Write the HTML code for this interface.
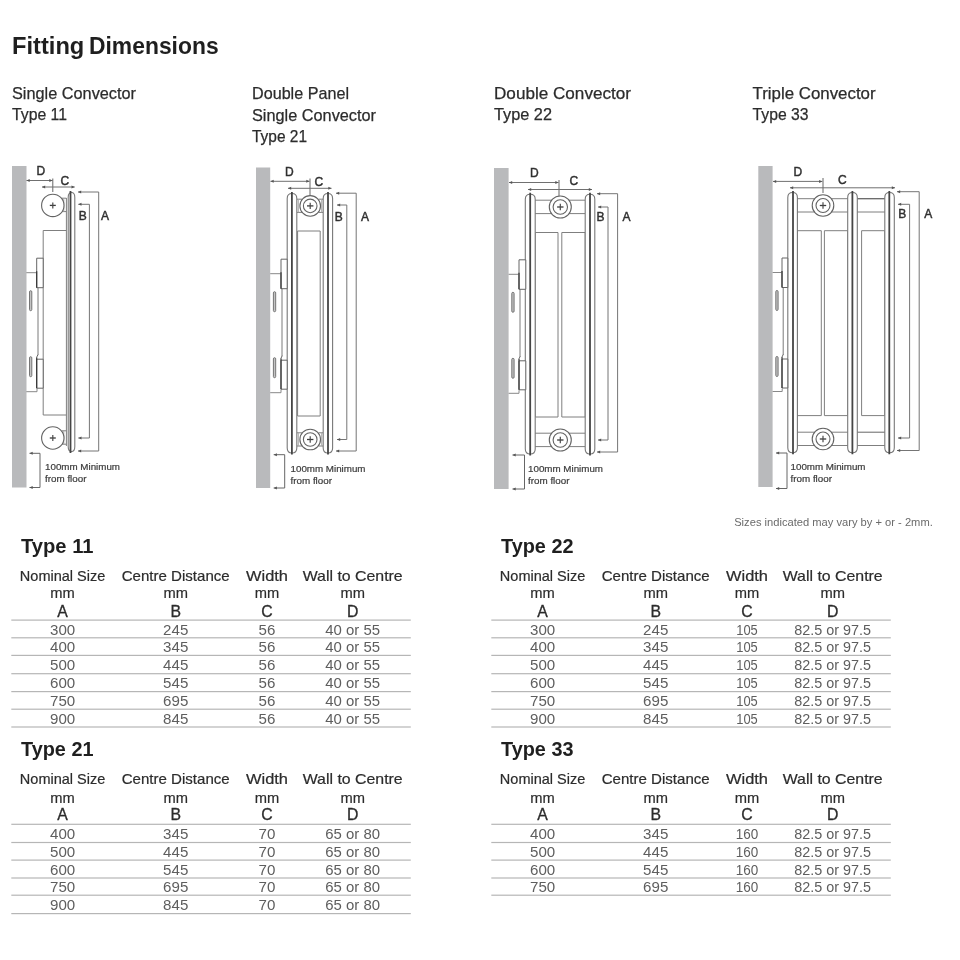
<!DOCTYPE html>
<html><head><meta charset="utf-8"><title>Fitting Dimensions</title>
<style>html,body{margin:0;padding:0;background:#fff;}body{width:960px;height:960px;overflow:hidden;font-family:"Liberation Sans",sans-serif;}svg{display:block;filter:blur(0.35px);}</style>
</head><body>
<svg width="960" height="960" viewBox="0 0 960 960" font-family="'Liberation Sans', sans-serif">
<rect width="960" height="960" fill="#fff"/>
<text x="12.0" y="53.9" font-size="23.6" text-anchor="start" fill="#1f1f1f" font-weight="bold" textLength="72.3" lengthAdjust="spacingAndGlyphs">Fitting</text>
<text x="89.0" y="53.9" font-size="23.6" text-anchor="start" fill="#1f1f1f" font-weight="bold" textLength="129.6" lengthAdjust="spacingAndGlyphs">Dimensions</text>
<text x="12" y="99" font-size="16.4" text-anchor="start" fill="#2c2c2c" font-weight="normal" textLength="124" lengthAdjust="spacingAndGlyphs" stroke="#2c2c2c" stroke-width="0.25">Single Convector</text>
<text x="12" y="120" font-size="16.4" text-anchor="start" fill="#2c2c2c" font-weight="normal" textLength="55" lengthAdjust="spacingAndGlyphs" stroke="#2c2c2c" stroke-width="0.25">Type 11</text>
<text x="252" y="99" font-size="16.4" text-anchor="start" fill="#2c2c2c" font-weight="normal" textLength="97" lengthAdjust="spacingAndGlyphs" stroke="#2c2c2c" stroke-width="0.25">Double Panel</text>
<text x="252" y="120.5" font-size="16.4" text-anchor="start" fill="#2c2c2c" font-weight="normal" textLength="124" lengthAdjust="spacingAndGlyphs" stroke="#2c2c2c" stroke-width="0.25">Single Convector</text>
<text x="252" y="142" font-size="16.4" text-anchor="start" fill="#2c2c2c" font-weight="normal" textLength="55" lengthAdjust="spacingAndGlyphs" stroke="#2c2c2c" stroke-width="0.25">Type 21</text>
<text x="494" y="99" font-size="16.4" text-anchor="start" fill="#2c2c2c" font-weight="normal" textLength="137" lengthAdjust="spacingAndGlyphs" stroke="#2c2c2c" stroke-width="0.25">Double Convector</text>
<text x="494" y="120" font-size="16.4" text-anchor="start" fill="#2c2c2c" font-weight="normal" textLength="58" lengthAdjust="spacingAndGlyphs" stroke="#2c2c2c" stroke-width="0.25">Type 22</text>
<text x="752.6" y="99" font-size="16.4" text-anchor="start" fill="#2c2c2c" font-weight="normal" textLength="123" lengthAdjust="spacingAndGlyphs" stroke="#2c2c2c" stroke-width="0.25">Triple Convector</text>
<text x="752.6" y="120" font-size="16.4" text-anchor="start" fill="#2c2c2c" font-weight="normal" textLength="56" lengthAdjust="spacingAndGlyphs" stroke="#2c2c2c" stroke-width="0.25">Type 33</text>
<rect x="12" y="166" width="14.5" height="321.5" fill="#b9babc"/>
<path d="M26.50 180.50L52.50 180.50" stroke="#707070" stroke-width="1" fill="none"/>
<path d="M26.50 180.50L29.70 179.00L29.70 182.00Z" fill="#555"/>
<path d="M52.50 180.50L49.30 179.00L49.30 182.00Z" fill="#555"/>
<path d="M52.80 178.50L52.80 192.00" stroke="#666" stroke-width="1" fill="none"/>
<path d="M42.00 187.00L74.70 187.00" stroke="#707070" stroke-width="1" fill="none"/>
<path d="M42.00 187.00L45.20 185.50L45.20 188.50Z" fill="#555"/>
<path d="M74.70 187.00L71.50 185.50L71.50 188.50Z" fill="#555"/>
<text x="36.5" y="175.3" font-size="12" text-anchor="start" fill="#303030" font-weight="normal" stroke="#303030" stroke-width="0.45">D</text>
<text x="60.5" y="184.8" font-size="12" text-anchor="start" fill="#303030" font-weight="normal" stroke="#303030" stroke-width="0.45">C</text>
<path d="M66.40 230.50L43.20 230.50L43.20 415.00L66.40 415.00" stroke="#7f7f7f" stroke-width="1" fill="none" stroke-linejoin="round"/>
<path d="M62.00 198.20L66.40 198.20" stroke="#7f7f7f" stroke-width="1" fill="none" stroke-linejoin="round"/>
<path d="M62.00 211.60L66.40 211.60" stroke="#7f7f7f" stroke-width="1" fill="none" stroke-linejoin="round"/>
<path d="M63.80 198.20L63.80 211.60" stroke="#aaa" stroke-width="1" fill="none"/>
<path d="M62.00 430.80L66.40 430.80" stroke="#7f7f7f" stroke-width="1" fill="none" stroke-linejoin="round"/>
<path d="M62.00 444.20L66.40 444.20" stroke="#7f7f7f" stroke-width="1" fill="none" stroke-linejoin="round"/>
<path d="M63.80 430.80L63.80 444.20" stroke="#aaa" stroke-width="1" fill="none"/>
<path d="M66.40 198.00L66.40 446.00" stroke="#7f7f7f" stroke-width="1" fill="none"/>
<path d="M68.20 197.50C68.20 194.50 69.52 192.50 71.50 192.50C73.48 192.50 74.80 194.50 74.80 197.50L74.80 446.50C74.80 449.50 73.48 451.50 71.50 451.50C69.52 451.50 68.20 449.50 68.20 446.50Z" stroke="#787878" stroke-width="1.1" fill="#fff"/>
<path d="M70.50 191.00L70.50 453.00" stroke="#454545" stroke-width="1.8" fill="none"/>
<circle cx="52.80" cy="205.40" r="11.20" stroke="#636363" stroke-width="1.1" fill="#fff"/>
<path d="M49.80 205.40L55.80 205.40" stroke="#3c3c3c" stroke-width="1.3" fill="none"/>
<path d="M52.80 202.40L52.80 208.40" stroke="#4a4a4a" stroke-width="1.2" fill="none"/>
<circle cx="52.80" cy="438.00" r="11.20" stroke="#636363" stroke-width="1.1" fill="#fff"/>
<path d="M49.80 438.00L55.80 438.00" stroke="#3c3c3c" stroke-width="1.3" fill="none"/>
<path d="M52.80 435.00L52.80 441.00" stroke="#4a4a4a" stroke-width="1.2" fill="none"/>
<path d="M78.00 192.00L98.70 192.00L98.70 451.00L78.00 451.00" stroke="#757575" stroke-width="1" fill="none" stroke-linejoin="round"/>
<path d="M78.00 192.00L81.20 190.50L81.20 193.50Z" fill="#555"/>
<path d="M78.00 451.00L81.20 449.50L81.20 452.50Z" fill="#555"/>
<path d="M78.30 204.30L89.40 204.30L89.40 438.00L78.30 438.00" stroke="#757575" stroke-width="1" fill="none" stroke-linejoin="round"/>
<path d="M78.30 204.30L81.50 202.80L81.50 205.80Z" fill="#555"/>
<path d="M78.30 438.00L81.50 436.50L81.50 439.50Z" fill="#555"/>
<text x="78.7" y="219.5" font-size="12" text-anchor="start" fill="#303030" font-weight="normal" stroke="#303030" stroke-width="0.45">B</text>
<text x="101" y="219.5" font-size="12" text-anchor="start" fill="#303030" font-weight="normal" stroke="#303030" stroke-width="0.45">A</text>
<path d="M26.30 272.70L36.50 272.70" stroke="#888" stroke-width="1" fill="none" stroke-linejoin="round"/>
<path d="M26.30 391.70L37.00 391.70L37.00 388.70" stroke="#888" stroke-width="1" fill="none" stroke-linejoin="round"/>
<path d="M38.00 287.70L38.00 355.20" stroke="#7a7a7a" stroke-width="1" fill="none"/>
<path d="M36.70 258.20L43.20 258.20L43.20 287.70L36.70 287.70Z" stroke="#666" stroke-width="1" fill="#fff" stroke-linejoin="round"/>
<path d="M36.70 271.20L36.70 287.70" stroke="#333" stroke-width="1.2" fill="none"/>
<path d="M36.70 359.20L43.20 359.20L43.20 388.20L36.70 388.20Z" stroke="#666" stroke-width="1" fill="#fff" stroke-linejoin="round"/>
<path d="M36.70 357.20L36.70 388.20" stroke="#333" stroke-width="1.2" fill="none"/>
<path d="M36.70 357.20L37.90 354.70" stroke="#666" stroke-width="1" fill="none"/>
<rect x="29.50" y="290.70" width="2.3" height="20" rx="1.15" fill="#c4c4c4" stroke="#6a6a6a" stroke-width="0.9"/>
<rect x="29.50" y="356.70" width="2.3" height="20" rx="1.15" fill="#c4c4c4" stroke="#6a6a6a" stroke-width="0.9"/>
<path d="M29.50 453.30L40.00 453.30L40.00 487.50L29.50 487.50" stroke="#666" stroke-width="1" fill="none" stroke-linejoin="round"/>
<path d="M29.50 453.30L32.70 451.80L32.70 454.80Z" fill="#555"/>
<path d="M29.50 487.50L32.70 486.00L32.70 489.00Z" fill="#555"/>
<text x="45" y="470.3" font-size="9.2" text-anchor="start" fill="#3c3c3c" font-weight="normal" textLength="75" lengthAdjust="spacingAndGlyphs" stroke="#3c3c3c" stroke-width="0.2">100mm Minimum</text>
<text x="45" y="482.3" font-size="9.2" text-anchor="start" fill="#3c3c3c" font-weight="normal" textLength="41.5" lengthAdjust="spacingAndGlyphs" stroke="#3c3c3c" stroke-width="0.2">from floor</text>
<rect x="256" y="167.5" width="14.2" height="320.5" fill="#b9babc"/>
<path d="M270.50 181.30L309.50 181.30" stroke="#707070" stroke-width="1" fill="none"/>
<path d="M270.50 181.30L273.70 179.80L273.70 182.80Z" fill="#555"/>
<path d="M309.50 181.30L306.30 179.80L306.30 182.80Z" fill="#555"/>
<path d="M310.00 178.50L310.00 196.00" stroke="#666" stroke-width="1" fill="none"/>
<path d="M288.00 188.30L331.50 188.30" stroke="#707070" stroke-width="1" fill="none"/>
<path d="M288.00 188.30L291.20 186.80L291.20 189.80Z" fill="#555"/>
<path d="M331.50 188.30L328.30 186.80L328.30 189.80Z" fill="#555"/>
<text x="285" y="175.8" font-size="12" text-anchor="start" fill="#303030" font-weight="normal" stroke="#303030" stroke-width="0.45">D</text>
<text x="314.5" y="185.5" font-size="12" text-anchor="start" fill="#303030" font-weight="normal" stroke="#303030" stroke-width="0.45">C</text>
<path d="M297.60 231.00L320.20 231.00L320.20 416.00L297.60 416.00L297.60 231.00" stroke="#7f7f7f" stroke-width="1" fill="none" stroke-linejoin="round"/>
<path d="M296.70 199.20L302.00 199.20" stroke="#7f7f7f" stroke-width="1.0" fill="none"/>
<path d="M296.70 212.40L302.00 212.40" stroke="#7f7f7f" stroke-width="1.0" fill="none"/>
<path d="M318.50 199.20L323.30 199.20" stroke="#7f7f7f" stroke-width="1.0" fill="none"/>
<path d="M318.50 212.40L323.30 212.40" stroke="#7f7f7f" stroke-width="1.0" fill="none"/>
<path d="M298.30 199.20L298.30 212.40" stroke="#aaa" stroke-width="1" fill="none"/>
<path d="M321.70 199.20L321.70 212.40" stroke="#aaa" stroke-width="1" fill="none"/>
<path d="M296.70 432.80L302.00 432.80" stroke="#7f7f7f" stroke-width="1.0" fill="none"/>
<path d="M296.70 446.00L302.00 446.00" stroke="#7f7f7f" stroke-width="1.0" fill="none"/>
<path d="M318.50 432.80L323.30 432.80" stroke="#7f7f7f" stroke-width="1.0" fill="none"/>
<path d="M318.50 446.00L323.30 446.00" stroke="#7f7f7f" stroke-width="1.0" fill="none"/>
<path d="M298.30 432.80L298.30 446.00" stroke="#aaa" stroke-width="1" fill="none"/>
<path d="M321.70 432.80L321.70 446.00" stroke="#aaa" stroke-width="1" fill="none"/>
<path d="M287.20 198.50C287.20 195.50 289.12 193.50 292.00 193.50C294.88 193.50 296.80 195.50 296.80 198.50L296.80 448.00C296.80 451.00 294.88 453.00 292.00 453.00C289.12 453.00 287.20 451.00 287.20 448.00Z" stroke="#787878" stroke-width="1.1" fill="#fff"/>
<path d="M291.90 192.00L291.90 454.50" stroke="#454545" stroke-width="1.8" fill="none"/>
<path d="M323.20 198.50C323.20 195.50 325.08 193.50 327.90 193.50C330.72 193.50 332.60 195.50 332.60 198.50L332.60 448.00C332.60 451.00 330.72 453.00 327.90 453.00C325.08 453.00 323.20 451.00 323.20 448.00Z" stroke="#787878" stroke-width="1.1" fill="#fff"/>
<path d="M328.00 192.00L328.00 454.50" stroke="#454545" stroke-width="1.8" fill="none"/>
<circle cx="310.20" cy="205.90" r="10.30" stroke="#636363" stroke-width="1.1" fill="#fff"/>
<circle cx="310.20" cy="205.90" r="6.80" stroke="#636363" stroke-width="1.1" fill="#fff"/>
<path d="M307.00 205.90L313.40 205.90" stroke="#3c3c3c" stroke-width="1.3" fill="none"/>
<path d="M310.20 202.70L310.20 209.10" stroke="#4a4a4a" stroke-width="1.2" fill="none"/>
<circle cx="310.20" cy="439.50" r="10.30" stroke="#636363" stroke-width="1.1" fill="#fff"/>
<circle cx="310.20" cy="439.50" r="6.80" stroke="#636363" stroke-width="1.1" fill="#fff"/>
<path d="M307.00 439.50L313.40 439.50" stroke="#3c3c3c" stroke-width="1.3" fill="none"/>
<path d="M310.20 436.30L310.20 442.70" stroke="#4a4a4a" stroke-width="1.2" fill="none"/>
<path d="M336.00 193.20L356.20 193.20L356.20 451.00L336.00 451.00" stroke="#757575" stroke-width="1" fill="none" stroke-linejoin="round"/>
<path d="M336.00 193.20L339.20 191.70L339.20 194.70Z" fill="#555"/>
<path d="M336.00 451.00L339.20 449.50L339.20 452.50Z" fill="#555"/>
<path d="M337.00 205.00L346.80 205.00L346.80 439.50L337.00 439.50" stroke="#757575" stroke-width="1" fill="none" stroke-linejoin="round"/>
<path d="M337.00 205.00L340.20 203.50L340.20 206.50Z" fill="#555"/>
<path d="M337.00 439.50L340.20 438.00L340.20 441.00Z" fill="#555"/>
<text x="334.8" y="221.3" font-size="12" text-anchor="start" fill="#303030" font-weight="normal" stroke="#303030" stroke-width="0.45">B</text>
<text x="361" y="221.3" font-size="12" text-anchor="start" fill="#303030" font-weight="normal" stroke="#303030" stroke-width="0.45">A</text>
<path d="M270.20 273.70L280.50 273.70" stroke="#888" stroke-width="1" fill="none" stroke-linejoin="round"/>
<path d="M270.20 392.70L281.00 392.70L281.00 389.70" stroke="#888" stroke-width="1" fill="none" stroke-linejoin="round"/>
<path d="M282.00 288.70L282.00 356.20" stroke="#7a7a7a" stroke-width="1" fill="none"/>
<path d="M281.00 259.20L287.20 259.20L287.20 288.70L281.00 288.70Z" stroke="#666" stroke-width="1" fill="#fff" stroke-linejoin="round"/>
<path d="M281.00 272.20L281.00 288.70" stroke="#333" stroke-width="1.2" fill="none"/>
<path d="M281.00 360.20L287.20 360.20L287.20 389.20L281.00 389.20Z" stroke="#666" stroke-width="1" fill="#fff" stroke-linejoin="round"/>
<path d="M281.00 358.20L281.00 389.20" stroke="#333" stroke-width="1.2" fill="none"/>
<path d="M281.00 358.20L282.20 355.70" stroke="#666" stroke-width="1" fill="none"/>
<rect x="273.40" y="291.70" width="2.3" height="20" rx="1.15" fill="#c4c4c4" stroke="#6a6a6a" stroke-width="0.9"/>
<rect x="273.40" y="357.70" width="2.3" height="20" rx="1.15" fill="#c4c4c4" stroke="#6a6a6a" stroke-width="0.9"/>
<path d="M273.70 454.70L284.70 454.70L284.70 488.00L273.70 488.00" stroke="#666" stroke-width="1" fill="none" stroke-linejoin="round"/>
<path d="M273.70 454.70L276.90 453.20L276.90 456.20Z" fill="#555"/>
<path d="M273.70 488.00L276.90 486.50L276.90 489.50Z" fill="#555"/>
<text x="290.5" y="471.7" font-size="9.2" text-anchor="start" fill="#3c3c3c" font-weight="normal" textLength="75" lengthAdjust="spacingAndGlyphs" stroke="#3c3c3c" stroke-width="0.2">100mm Minimum</text>
<text x="290.5" y="483.7" font-size="9.2" text-anchor="start" fill="#3c3c3c" font-weight="normal" textLength="41.5" lengthAdjust="spacingAndGlyphs" stroke="#3c3c3c" stroke-width="0.2">from floor</text>
<rect x="494" y="168" width="14.6" height="321" fill="#b9babc"/>
<path d="M509.00 182.50L558.50 182.50" stroke="#707070" stroke-width="1" fill="none"/>
<path d="M509.00 182.50L512.20 181.00L512.20 184.00Z" fill="#555"/>
<path d="M558.50 182.50L555.30 181.00L555.30 184.00Z" fill="#555"/>
<path d="M559.00 180.00L559.00 196.00" stroke="#666" stroke-width="1" fill="none"/>
<path d="M528.00 189.50L592.00 189.50" stroke="#707070" stroke-width="1" fill="none"/>
<path d="M528.00 189.50L531.20 188.00L531.20 191.00Z" fill="#555"/>
<path d="M592.00 189.50L588.80 188.00L588.80 191.00Z" fill="#555"/>
<text x="530" y="176.5" font-size="12" text-anchor="start" fill="#303030" font-weight="normal" stroke="#303030" stroke-width="0.45">D</text>
<text x="569.5" y="185" font-size="12" text-anchor="start" fill="#303030" font-weight="normal" stroke="#303030" stroke-width="0.45">C</text>
<path d="M535.20 232.50L558.00 232.50L558.00 417.00L535.20 417.00L535.20 232.50" stroke="#7f7f7f" stroke-width="1" fill="none" stroke-linejoin="round"/>
<path d="M561.80 232.50L585.20 232.50L585.20 417.00L561.80 417.00L561.80 232.50" stroke="#7f7f7f" stroke-width="1" fill="none" stroke-linejoin="round"/>
<path d="M534.70 200.20L585.00 200.20" stroke="#7f7f7f" stroke-width="1.0" fill="none"/>
<path d="M534.70 213.60L585.00 213.60" stroke="#7f7f7f" stroke-width="1.0" fill="none"/>
<path d="M534.70 433.20L585.00 433.20" stroke="#7f7f7f" stroke-width="1.0" fill="none"/>
<path d="M534.70 446.60L585.00 446.60" stroke="#7f7f7f" stroke-width="1.0" fill="none"/>
<path d="M525.30 199.30C525.30 196.30 527.28 194.30 530.25 194.30C533.22 194.30 535.20 196.30 535.20 199.30L535.20 449.00C535.20 452.00 533.22 454.00 530.25 454.00C527.28 454.00 525.30 452.00 525.30 449.00Z" stroke="#787878" stroke-width="1.1" fill="#fff"/>
<path d="M530.20 192.80L530.20 455.50" stroke="#454545" stroke-width="1.8" fill="none"/>
<path d="M585.20 199.30C585.20 196.30 587.12 194.30 590.00 194.30C592.88 194.30 594.80 196.30 594.80 199.30L594.80 449.00C594.80 452.00 592.88 454.00 590.00 454.00C587.12 454.00 585.20 452.00 585.20 449.00Z" stroke="#787878" stroke-width="1.1" fill="#fff"/>
<path d="M590.00 192.80L590.00 455.50" stroke="#454545" stroke-width="1.8" fill="none"/>
<circle cx="560.30" cy="207.00" r="11.00" stroke="#636363" stroke-width="1.1" fill="#fff"/>
<circle cx="560.30" cy="207.00" r="7.20" stroke="#636363" stroke-width="1.1" fill="#fff"/>
<path d="M557.10 207.00L563.50 207.00" stroke="#3c3c3c" stroke-width="1.3" fill="none"/>
<path d="M560.30 203.80L560.30 210.20" stroke="#4a4a4a" stroke-width="1.2" fill="none"/>
<circle cx="560.30" cy="440.00" r="11.00" stroke="#636363" stroke-width="1.1" fill="#fff"/>
<circle cx="560.30" cy="440.00" r="7.20" stroke="#636363" stroke-width="1.1" fill="#fff"/>
<path d="M557.10 440.00L563.50 440.00" stroke="#3c3c3c" stroke-width="1.3" fill="none"/>
<path d="M560.30 436.80L560.30 443.20" stroke="#4a4a4a" stroke-width="1.2" fill="none"/>
<path d="M597.00 193.70L617.60 193.70L617.60 452.00L597.00 452.00" stroke="#757575" stroke-width="1" fill="none" stroke-linejoin="round"/>
<path d="M597.00 193.70L600.20 192.20L600.20 195.20Z" fill="#555"/>
<path d="M597.00 452.00L600.20 450.50L600.20 453.50Z" fill="#555"/>
<path d="M598.00 207.00L608.00 207.00L608.00 440.00L598.00 440.00" stroke="#757575" stroke-width="1" fill="none" stroke-linejoin="round"/>
<path d="M598.00 207.00L601.20 205.50L601.20 208.50Z" fill="#555"/>
<path d="M598.00 440.00L601.20 438.50L601.20 441.50Z" fill="#555"/>
<text x="596.5" y="221" font-size="12" text-anchor="start" fill="#303030" font-weight="normal" stroke="#303030" stroke-width="0.45">B</text>
<text x="622.5" y="221" font-size="12" text-anchor="start" fill="#303030" font-weight="normal" stroke="#303030" stroke-width="0.45">A</text>
<path d="M508.60 274.30L518.50 274.30" stroke="#888" stroke-width="1" fill="none" stroke-linejoin="round"/>
<path d="M508.60 393.30L519.00 393.30L519.00 390.30" stroke="#888" stroke-width="1" fill="none" stroke-linejoin="round"/>
<path d="M520.00 289.30L520.00 356.80" stroke="#7a7a7a" stroke-width="1" fill="none"/>
<path d="M519.00 259.80L525.80 259.80L525.80 289.30L519.00 289.30Z" stroke="#666" stroke-width="1" fill="#fff" stroke-linejoin="round"/>
<path d="M519.00 272.80L519.00 289.30" stroke="#333" stroke-width="1.2" fill="none"/>
<path d="M519.00 360.80L525.80 360.80L525.80 389.80L519.00 389.80Z" stroke="#666" stroke-width="1" fill="#fff" stroke-linejoin="round"/>
<path d="M519.00 358.80L519.00 389.80" stroke="#333" stroke-width="1.2" fill="none"/>
<path d="M519.00 358.80L520.20 356.30" stroke="#666" stroke-width="1" fill="none"/>
<rect x="511.80" y="292.30" width="2.3" height="20" rx="1.15" fill="#c4c4c4" stroke="#6a6a6a" stroke-width="0.9"/>
<rect x="511.80" y="358.30" width="2.3" height="20" rx="1.15" fill="#c4c4c4" stroke="#6a6a6a" stroke-width="0.9"/>
<path d="M512.50 455.00L524.50 455.00L524.50 489.00L512.50 489.00" stroke="#666" stroke-width="1" fill="none" stroke-linejoin="round"/>
<path d="M512.50 455.00L515.70 453.50L515.70 456.50Z" fill="#555"/>
<path d="M512.50 489.00L515.70 487.50L515.70 490.50Z" fill="#555"/>
<text x="528" y="472.0" font-size="9.2" text-anchor="start" fill="#3c3c3c" font-weight="normal" textLength="75" lengthAdjust="spacingAndGlyphs" stroke="#3c3c3c" stroke-width="0.2">100mm Minimum</text>
<text x="528" y="484.0" font-size="9.2" text-anchor="start" fill="#3c3c3c" font-weight="normal" textLength="41.5" lengthAdjust="spacingAndGlyphs" stroke="#3c3c3c" stroke-width="0.2">from floor</text>
<rect x="758.3" y="166" width="14.3" height="321" fill="#b9babc"/>
<path d="M773.00 181.40L822.30 181.40" stroke="#707070" stroke-width="1" fill="none"/>
<path d="M773.00 181.40L776.20 179.90L776.20 182.90Z" fill="#555"/>
<path d="M822.30 181.40L819.10 179.90L819.10 182.90Z" fill="#555"/>
<path d="M823.00 178.00L823.00 193.00" stroke="#666" stroke-width="1" fill="none"/>
<path d="M790.00 187.80L895.00 187.80" stroke="#707070" stroke-width="1" fill="none"/>
<path d="M790.00 187.80L793.20 186.30L793.20 189.30Z" fill="#555"/>
<path d="M895.00 187.80L891.80 186.30L891.80 189.30Z" fill="#555"/>
<text x="793.5" y="175.5" font-size="12" text-anchor="start" fill="#303030" font-weight="normal" stroke="#303030" stroke-width="0.45">D</text>
<text x="838" y="183.5" font-size="12" text-anchor="start" fill="#303030" font-weight="normal" stroke="#303030" stroke-width="0.45">C</text>
<path d="M797.40 230.70L821.30 230.70L821.30 415.60L797.40 415.60L797.40 230.70" stroke="#7f7f7f" stroke-width="1" fill="none" stroke-linejoin="round"/>
<path d="M824.40 230.70L847.80 230.70L847.80 415.60L824.40 415.60L824.40 230.70" stroke="#7f7f7f" stroke-width="1" fill="none" stroke-linejoin="round"/>
<path d="M861.60 230.70L884.80 230.70L884.80 415.60L861.60 415.60L861.60 230.70" stroke="#7f7f7f" stroke-width="1" fill="none" stroke-linejoin="round"/>
<path d="M797.00 198.70L848.00 198.70" stroke="#7f7f7f" stroke-width="1.0" fill="none"/>
<path d="M797.00 212.00L848.00 212.00" stroke="#7f7f7f" stroke-width="1.0" fill="none"/>
<path d="M857.00 198.70L885.00 198.70" stroke="#666" stroke-width="1.3" fill="none"/>
<path d="M857.00 212.00L885.00 212.00" stroke="#7f7f7f" stroke-width="1.0" fill="none"/>
<path d="M797.00 432.20L848.00 432.20" stroke="#7f7f7f" stroke-width="1.0" fill="none"/>
<path d="M797.00 445.50L848.00 445.50" stroke="#7f7f7f" stroke-width="1.0" fill="none"/>
<path d="M857.00 432.20L885.00 432.20" stroke="#666" stroke-width="1" fill="none"/>
<path d="M857.00 445.50L885.00 445.50" stroke="#7f7f7f" stroke-width="1.0" fill="none"/>
<path d="M787.80 197.50C787.80 194.50 789.72 192.50 792.60 192.50C795.48 192.50 797.40 194.50 797.40 197.50L797.40 447.70C797.40 450.70 795.48 452.70 792.60 452.70C789.72 452.70 787.80 450.70 787.80 447.70Z" stroke="#787878" stroke-width="1.1" fill="#fff"/>
<path d="M793.00 191.00L793.00 454.20" stroke="#454545" stroke-width="1.8" fill="none"/>
<path d="M847.70 197.50C847.70 194.50 849.62 192.50 852.50 192.50C855.38 192.50 857.30 194.50 857.30 197.50L857.30 447.70C857.30 450.70 855.38 452.70 852.50 452.70C849.62 452.70 847.70 450.70 847.70 447.70Z" stroke="#787878" stroke-width="1.1" fill="#fff"/>
<path d="M852.40 191.00L852.40 454.20" stroke="#454545" stroke-width="1.8" fill="none"/>
<path d="M884.80 197.50C884.80 194.50 886.70 192.50 889.55 192.50C892.40 192.50 894.30 194.50 894.30 197.50L894.30 447.70C894.30 450.70 892.40 452.70 889.55 452.70C886.70 452.70 884.80 450.70 884.80 447.70Z" stroke="#787878" stroke-width="1.1" fill="#fff"/>
<path d="M889.30 191.00L889.30 454.20" stroke="#454545" stroke-width="1.8" fill="none"/>
<circle cx="823.00" cy="205.50" r="10.80" stroke="#636363" stroke-width="1.1" fill="#fff"/>
<circle cx="823.00" cy="205.50" r="7.00" stroke="#636363" stroke-width="1.1" fill="#fff"/>
<path d="M819.80 205.50L826.20 205.50" stroke="#3c3c3c" stroke-width="1.3" fill="none"/>
<path d="M823.00 202.30L823.00 208.70" stroke="#4a4a4a" stroke-width="1.2" fill="none"/>
<circle cx="823.00" cy="439.00" r="10.80" stroke="#636363" stroke-width="1.1" fill="#fff"/>
<circle cx="823.00" cy="439.00" r="7.00" stroke="#636363" stroke-width="1.1" fill="#fff"/>
<path d="M819.80 439.00L826.20 439.00" stroke="#3c3c3c" stroke-width="1.3" fill="none"/>
<path d="M823.00 435.80L823.00 442.20" stroke="#4a4a4a" stroke-width="1.2" fill="none"/>
<path d="M897.00 191.70L919.20 191.70L919.20 450.50L897.00 450.50" stroke="#757575" stroke-width="1" fill="none" stroke-linejoin="round"/>
<path d="M897.00 191.70L900.20 190.20L900.20 193.20Z" fill="#555"/>
<path d="M897.00 450.50L900.20 449.00L900.20 452.00Z" fill="#555"/>
<path d="M898.00 204.30L909.60 204.30L909.60 438.00L898.00 438.00" stroke="#757575" stroke-width="1" fill="none" stroke-linejoin="round"/>
<path d="M898.00 204.30L901.20 202.80L901.20 205.80Z" fill="#555"/>
<path d="M898.00 438.00L901.20 436.50L901.20 439.50Z" fill="#555"/>
<text x="898.3" y="218" font-size="12" text-anchor="start" fill="#303030" font-weight="normal" stroke="#303030" stroke-width="0.45">B</text>
<text x="924.3" y="218" font-size="12" text-anchor="start" fill="#303030" font-weight="normal" stroke="#303030" stroke-width="0.45">A</text>
<path d="M772.60 272.50L781.70 272.50" stroke="#888" stroke-width="1" fill="none" stroke-linejoin="round"/>
<path d="M772.60 391.50L782.20 391.50L782.20 388.50" stroke="#888" stroke-width="1" fill="none" stroke-linejoin="round"/>
<path d="M783.20 287.50L783.20 355.00" stroke="#7a7a7a" stroke-width="1" fill="none"/>
<path d="M782.00 258.00L787.80 258.00L787.80 287.50L782.00 287.50Z" stroke="#666" stroke-width="1" fill="#fff" stroke-linejoin="round"/>
<path d="M782.00 271.00L782.00 287.50" stroke="#333" stroke-width="1.2" fill="none"/>
<path d="M782.00 359.00L787.80 359.00L787.80 388.00L782.00 388.00Z" stroke="#666" stroke-width="1" fill="#fff" stroke-linejoin="round"/>
<path d="M782.00 357.00L782.00 388.00" stroke="#333" stroke-width="1.2" fill="none"/>
<path d="M782.00 357.00L783.20 354.50" stroke="#666" stroke-width="1" fill="none"/>
<rect x="775.80" y="290.50" width="2.3" height="20" rx="1.15" fill="#c4c4c4" stroke="#6a6a6a" stroke-width="0.9"/>
<rect x="775.80" y="356.50" width="2.3" height="20" rx="1.15" fill="#c4c4c4" stroke="#6a6a6a" stroke-width="0.9"/>
<path d="M776.00 453.00L787.00 453.00L787.00 488.50L776.00 488.50" stroke="#666" stroke-width="1" fill="none" stroke-linejoin="round"/>
<path d="M776.00 453.00L779.20 451.50L779.20 454.50Z" fill="#555"/>
<path d="M776.00 488.50L779.20 487.00L779.20 490.00Z" fill="#555"/>
<text x="790.5" y="470.0" font-size="9.2" text-anchor="start" fill="#3c3c3c" font-weight="normal" textLength="75" lengthAdjust="spacingAndGlyphs" stroke="#3c3c3c" stroke-width="0.2">100mm Minimum</text>
<text x="790.5" y="482.0" font-size="9.2" text-anchor="start" fill="#3c3c3c" font-weight="normal" textLength="41.5" lengthAdjust="spacingAndGlyphs" stroke="#3c3c3c" stroke-width="0.2">from floor</text>
<text x="734.2" y="525.5" font-size="10.2" text-anchor="start" fill="#6a6a6a" font-weight="normal" textLength="198.6" lengthAdjust="spacingAndGlyphs">Sizes indicated may vary by + or - 2mm.</text>
<text x="21" y="552.5" font-size="20.4" text-anchor="start" fill="#1f1f1f" font-weight="bold" textLength="72.5" lengthAdjust="spacingAndGlyphs">Type 11</text>
<text x="62.6" y="580.5" font-size="14.6" text-anchor="middle" fill="#2c2c2c" font-weight="normal" textLength="85.5" lengthAdjust="spacingAndGlyphs" stroke="#2c2c2c" stroke-width="0.2">Nominal Size</text>
<text x="62.6" y="598.2" font-size="14.6" text-anchor="middle" fill="#2c2c2c" font-weight="normal" textLength="24.5" lengthAdjust="spacingAndGlyphs" stroke="#2c2c2c" stroke-width="0.2">mm</text>
<text x="175.7" y="580.5" font-size="14.6" text-anchor="middle" fill="#2c2c2c" font-weight="normal" textLength="108" lengthAdjust="spacingAndGlyphs" stroke="#2c2c2c" stroke-width="0.2">Centre Distance</text>
<text x="175.7" y="598.2" font-size="14.6" text-anchor="middle" fill="#2c2c2c" font-weight="normal" textLength="24.5" lengthAdjust="spacingAndGlyphs" stroke="#2c2c2c" stroke-width="0.2">mm</text>
<text x="267" y="580.5" font-size="14.6" text-anchor="middle" fill="#2c2c2c" font-weight="normal" textLength="42" lengthAdjust="spacingAndGlyphs" stroke="#2c2c2c" stroke-width="0.2">Width</text>
<text x="267" y="598.2" font-size="14.6" text-anchor="middle" fill="#2c2c2c" font-weight="normal" textLength="24.5" lengthAdjust="spacingAndGlyphs" stroke="#2c2c2c" stroke-width="0.2">mm</text>
<text x="352.7" y="580.5" font-size="14.6" text-anchor="middle" fill="#2c2c2c" font-weight="normal" textLength="100" lengthAdjust="spacingAndGlyphs" stroke="#2c2c2c" stroke-width="0.2">Wall to Centre</text>
<text x="352.7" y="598.2" font-size="14.6" text-anchor="middle" fill="#2c2c2c" font-weight="normal" textLength="24.5" lengthAdjust="spacingAndGlyphs" stroke="#2c2c2c" stroke-width="0.2">mm</text>
<text x="62.6" y="616.8" font-size="15.8" text-anchor="middle" fill="#2c2c2c" font-weight="normal" stroke="#2c2c2c" stroke-width="0.3">A</text>
<text x="175.7" y="616.8" font-size="15.8" text-anchor="middle" fill="#2c2c2c" font-weight="normal" stroke="#2c2c2c" stroke-width="0.3">B</text>
<text x="267" y="616.8" font-size="15.8" text-anchor="middle" fill="#2c2c2c" font-weight="normal" stroke="#2c2c2c" stroke-width="0.3">C</text>
<text x="352.7" y="616.8" font-size="15.8" text-anchor="middle" fill="#2c2c2c" font-weight="normal" stroke="#2c2c2c" stroke-width="0.3">D</text>
<rect x="11.3" y="619.50" width="399.5" height="1.2" fill="#b6b6b6"/>
<text x="62.6" y="634.5" font-size="15.1" text-anchor="middle" fill="#5e5e5e" font-weight="normal">300</text>
<text x="175.7" y="634.5" font-size="15.1" text-anchor="middle" fill="#5e5e5e" font-weight="normal">245</text>
<text x="267" y="634.5" font-size="15.1" text-anchor="middle" fill="#5e5e5e" font-weight="normal">56</text>
<text x="352.7" y="634.5" font-size="15.1" text-anchor="middle" fill="#5e5e5e" font-weight="normal" textLength="54.8" lengthAdjust="spacingAndGlyphs">40 or 55</text>
<rect x="11.3" y="637.20" width="399.5" height="1.2" fill="#b6b6b6"/>
<text x="62.6" y="652.1" font-size="15.1" text-anchor="middle" fill="#5e5e5e" font-weight="normal">400</text>
<text x="175.7" y="652.1" font-size="15.1" text-anchor="middle" fill="#5e5e5e" font-weight="normal">345</text>
<text x="267" y="652.1" font-size="15.1" text-anchor="middle" fill="#5e5e5e" font-weight="normal">56</text>
<text x="352.7" y="652.1" font-size="15.1" text-anchor="middle" fill="#5e5e5e" font-weight="normal" textLength="54.8" lengthAdjust="spacingAndGlyphs">40 or 55</text>
<rect x="11.3" y="654.80" width="399.5" height="1.2" fill="#b6b6b6"/>
<text x="62.6" y="670.4000000000001" font-size="15.1" text-anchor="middle" fill="#5e5e5e" font-weight="normal">500</text>
<text x="175.7" y="670.4000000000001" font-size="15.1" text-anchor="middle" fill="#5e5e5e" font-weight="normal">445</text>
<text x="267" y="670.4000000000001" font-size="15.1" text-anchor="middle" fill="#5e5e5e" font-weight="normal">56</text>
<text x="352.7" y="670.4000000000001" font-size="15.1" text-anchor="middle" fill="#5e5e5e" font-weight="normal" textLength="54.8" lengthAdjust="spacingAndGlyphs">40 or 55</text>
<rect x="11.3" y="673.10" width="399.5" height="1.2" fill="#b6b6b6"/>
<text x="62.6" y="688.3000000000001" font-size="15.1" text-anchor="middle" fill="#5e5e5e" font-weight="normal">600</text>
<text x="175.7" y="688.3000000000001" font-size="15.1" text-anchor="middle" fill="#5e5e5e" font-weight="normal">545</text>
<text x="267" y="688.3000000000001" font-size="15.1" text-anchor="middle" fill="#5e5e5e" font-weight="normal">56</text>
<text x="352.7" y="688.3000000000001" font-size="15.1" text-anchor="middle" fill="#5e5e5e" font-weight="normal" textLength="54.8" lengthAdjust="spacingAndGlyphs">40 or 55</text>
<rect x="11.3" y="691.00" width="399.5" height="1.2" fill="#b6b6b6"/>
<text x="62.6" y="705.9000000000001" font-size="15.1" text-anchor="middle" fill="#5e5e5e" font-weight="normal">750</text>
<text x="175.7" y="705.9000000000001" font-size="15.1" text-anchor="middle" fill="#5e5e5e" font-weight="normal">695</text>
<text x="267" y="705.9000000000001" font-size="15.1" text-anchor="middle" fill="#5e5e5e" font-weight="normal">56</text>
<text x="352.7" y="705.9000000000001" font-size="15.1" text-anchor="middle" fill="#5e5e5e" font-weight="normal" textLength="54.8" lengthAdjust="spacingAndGlyphs">40 or 55</text>
<rect x="11.3" y="708.60" width="399.5" height="1.2" fill="#b6b6b6"/>
<text x="62.6" y="723.7" font-size="15.1" text-anchor="middle" fill="#5e5e5e" font-weight="normal">900</text>
<text x="175.7" y="723.7" font-size="15.1" text-anchor="middle" fill="#5e5e5e" font-weight="normal">845</text>
<text x="267" y="723.7" font-size="15.1" text-anchor="middle" fill="#5e5e5e" font-weight="normal">56</text>
<text x="352.7" y="723.7" font-size="15.1" text-anchor="middle" fill="#5e5e5e" font-weight="normal" textLength="54.8" lengthAdjust="spacingAndGlyphs">40 or 55</text>
<rect x="11.3" y="726.40" width="399.5" height="1.2" fill="#b6b6b6"/>
<text x="501" y="552.5" font-size="20.4" text-anchor="start" fill="#1f1f1f" font-weight="bold" textLength="72.5" lengthAdjust="spacingAndGlyphs">Type 22</text>
<text x="542.6" y="580.5" font-size="14.6" text-anchor="middle" fill="#2c2c2c" font-weight="normal" textLength="85.5" lengthAdjust="spacingAndGlyphs" stroke="#2c2c2c" stroke-width="0.2">Nominal Size</text>
<text x="542.6" y="598.2" font-size="14.6" text-anchor="middle" fill="#2c2c2c" font-weight="normal" textLength="24.5" lengthAdjust="spacingAndGlyphs" stroke="#2c2c2c" stroke-width="0.2">mm</text>
<text x="655.7" y="580.5" font-size="14.6" text-anchor="middle" fill="#2c2c2c" font-weight="normal" textLength="108" lengthAdjust="spacingAndGlyphs" stroke="#2c2c2c" stroke-width="0.2">Centre Distance</text>
<text x="655.7" y="598.2" font-size="14.6" text-anchor="middle" fill="#2c2c2c" font-weight="normal" textLength="24.5" lengthAdjust="spacingAndGlyphs" stroke="#2c2c2c" stroke-width="0.2">mm</text>
<text x="747" y="580.5" font-size="14.6" text-anchor="middle" fill="#2c2c2c" font-weight="normal" textLength="42" lengthAdjust="spacingAndGlyphs" stroke="#2c2c2c" stroke-width="0.2">Width</text>
<text x="747" y="598.2" font-size="14.6" text-anchor="middle" fill="#2c2c2c" font-weight="normal" textLength="24.5" lengthAdjust="spacingAndGlyphs" stroke="#2c2c2c" stroke-width="0.2">mm</text>
<text x="832.7" y="580.5" font-size="14.6" text-anchor="middle" fill="#2c2c2c" font-weight="normal" textLength="100" lengthAdjust="spacingAndGlyphs" stroke="#2c2c2c" stroke-width="0.2">Wall to Centre</text>
<text x="832.7" y="598.2" font-size="14.6" text-anchor="middle" fill="#2c2c2c" font-weight="normal" textLength="24.5" lengthAdjust="spacingAndGlyphs" stroke="#2c2c2c" stroke-width="0.2">mm</text>
<text x="542.6" y="616.8" font-size="15.8" text-anchor="middle" fill="#2c2c2c" font-weight="normal" stroke="#2c2c2c" stroke-width="0.3">A</text>
<text x="655.7" y="616.8" font-size="15.8" text-anchor="middle" fill="#2c2c2c" font-weight="normal" stroke="#2c2c2c" stroke-width="0.3">B</text>
<text x="747" y="616.8" font-size="15.8" text-anchor="middle" fill="#2c2c2c" font-weight="normal" stroke="#2c2c2c" stroke-width="0.3">C</text>
<text x="832.7" y="616.8" font-size="15.8" text-anchor="middle" fill="#2c2c2c" font-weight="normal" stroke="#2c2c2c" stroke-width="0.3">D</text>
<rect x="491.3" y="619.50" width="399.5" height="1.2" fill="#b6b6b6"/>
<text x="542.6" y="634.5" font-size="15.1" text-anchor="middle" fill="#5e5e5e" font-weight="normal">300</text>
<text x="655.7" y="634.5" font-size="15.1" text-anchor="middle" fill="#5e5e5e" font-weight="normal">245</text>
<text x="747" y="634.5" font-size="15.1" text-anchor="middle" fill="#5e5e5e" font-weight="normal" textLength="21.5" lengthAdjust="spacingAndGlyphs">105</text>
<text x="832.7" y="634.5" font-size="15.1" text-anchor="middle" fill="#5e5e5e" font-weight="normal" textLength="76.8" lengthAdjust="spacingAndGlyphs">82.5 or 97.5</text>
<rect x="491.3" y="637.20" width="399.5" height="1.2" fill="#b6b6b6"/>
<text x="542.6" y="652.1" font-size="15.1" text-anchor="middle" fill="#5e5e5e" font-weight="normal">400</text>
<text x="655.7" y="652.1" font-size="15.1" text-anchor="middle" fill="#5e5e5e" font-weight="normal">345</text>
<text x="747" y="652.1" font-size="15.1" text-anchor="middle" fill="#5e5e5e" font-weight="normal" textLength="21.5" lengthAdjust="spacingAndGlyphs">105</text>
<text x="832.7" y="652.1" font-size="15.1" text-anchor="middle" fill="#5e5e5e" font-weight="normal" textLength="76.8" lengthAdjust="spacingAndGlyphs">82.5 or 97.5</text>
<rect x="491.3" y="654.80" width="399.5" height="1.2" fill="#b6b6b6"/>
<text x="542.6" y="670.4000000000001" font-size="15.1" text-anchor="middle" fill="#5e5e5e" font-weight="normal">500</text>
<text x="655.7" y="670.4000000000001" font-size="15.1" text-anchor="middle" fill="#5e5e5e" font-weight="normal">445</text>
<text x="747" y="670.4000000000001" font-size="15.1" text-anchor="middle" fill="#5e5e5e" font-weight="normal" textLength="21.5" lengthAdjust="spacingAndGlyphs">105</text>
<text x="832.7" y="670.4000000000001" font-size="15.1" text-anchor="middle" fill="#5e5e5e" font-weight="normal" textLength="76.8" lengthAdjust="spacingAndGlyphs">82.5 or 97.5</text>
<rect x="491.3" y="673.10" width="399.5" height="1.2" fill="#b6b6b6"/>
<text x="542.6" y="688.3000000000001" font-size="15.1" text-anchor="middle" fill="#5e5e5e" font-weight="normal">600</text>
<text x="655.7" y="688.3000000000001" font-size="15.1" text-anchor="middle" fill="#5e5e5e" font-weight="normal">545</text>
<text x="747" y="688.3000000000001" font-size="15.1" text-anchor="middle" fill="#5e5e5e" font-weight="normal" textLength="21.5" lengthAdjust="spacingAndGlyphs">105</text>
<text x="832.7" y="688.3000000000001" font-size="15.1" text-anchor="middle" fill="#5e5e5e" font-weight="normal" textLength="76.8" lengthAdjust="spacingAndGlyphs">82.5 or 97.5</text>
<rect x="491.3" y="691.00" width="399.5" height="1.2" fill="#b6b6b6"/>
<text x="542.6" y="705.9000000000001" font-size="15.1" text-anchor="middle" fill="#5e5e5e" font-weight="normal">750</text>
<text x="655.7" y="705.9000000000001" font-size="15.1" text-anchor="middle" fill="#5e5e5e" font-weight="normal">695</text>
<text x="747" y="705.9000000000001" font-size="15.1" text-anchor="middle" fill="#5e5e5e" font-weight="normal" textLength="21.5" lengthAdjust="spacingAndGlyphs">105</text>
<text x="832.7" y="705.9000000000001" font-size="15.1" text-anchor="middle" fill="#5e5e5e" font-weight="normal" textLength="76.8" lengthAdjust="spacingAndGlyphs">82.5 or 97.5</text>
<rect x="491.3" y="708.60" width="399.5" height="1.2" fill="#b6b6b6"/>
<text x="542.6" y="723.7" font-size="15.1" text-anchor="middle" fill="#5e5e5e" font-weight="normal">900</text>
<text x="655.7" y="723.7" font-size="15.1" text-anchor="middle" fill="#5e5e5e" font-weight="normal">845</text>
<text x="747" y="723.7" font-size="15.1" text-anchor="middle" fill="#5e5e5e" font-weight="normal" textLength="21.5" lengthAdjust="spacingAndGlyphs">105</text>
<text x="832.7" y="723.7" font-size="15.1" text-anchor="middle" fill="#5e5e5e" font-weight="normal" textLength="76.8" lengthAdjust="spacingAndGlyphs">82.5 or 97.5</text>
<rect x="491.3" y="726.40" width="399.5" height="1.2" fill="#b6b6b6"/>
<text x="21" y="755.8" font-size="20.4" text-anchor="start" fill="#1f1f1f" font-weight="bold" textLength="72.5" lengthAdjust="spacingAndGlyphs">Type 21</text>
<text x="62.6" y="783.5" font-size="14.6" text-anchor="middle" fill="#2c2c2c" font-weight="normal" textLength="85.5" lengthAdjust="spacingAndGlyphs" stroke="#2c2c2c" stroke-width="0.2">Nominal Size</text>
<text x="62.6" y="802.6" font-size="14.6" text-anchor="middle" fill="#2c2c2c" font-weight="normal" textLength="24.5" lengthAdjust="spacingAndGlyphs" stroke="#2c2c2c" stroke-width="0.2">mm</text>
<text x="175.7" y="783.5" font-size="14.6" text-anchor="middle" fill="#2c2c2c" font-weight="normal" textLength="108" lengthAdjust="spacingAndGlyphs" stroke="#2c2c2c" stroke-width="0.2">Centre Distance</text>
<text x="175.7" y="802.6" font-size="14.6" text-anchor="middle" fill="#2c2c2c" font-weight="normal" textLength="24.5" lengthAdjust="spacingAndGlyphs" stroke="#2c2c2c" stroke-width="0.2">mm</text>
<text x="267" y="783.5" font-size="14.6" text-anchor="middle" fill="#2c2c2c" font-weight="normal" textLength="42" lengthAdjust="spacingAndGlyphs" stroke="#2c2c2c" stroke-width="0.2">Width</text>
<text x="267" y="802.6" font-size="14.6" text-anchor="middle" fill="#2c2c2c" font-weight="normal" textLength="24.5" lengthAdjust="spacingAndGlyphs" stroke="#2c2c2c" stroke-width="0.2">mm</text>
<text x="352.7" y="783.5" font-size="14.6" text-anchor="middle" fill="#2c2c2c" font-weight="normal" textLength="100" lengthAdjust="spacingAndGlyphs" stroke="#2c2c2c" stroke-width="0.2">Wall to Centre</text>
<text x="352.7" y="802.6" font-size="14.6" text-anchor="middle" fill="#2c2c2c" font-weight="normal" textLength="24.5" lengthAdjust="spacingAndGlyphs" stroke="#2c2c2c" stroke-width="0.2">mm</text>
<text x="62.6" y="820.0999999999999" font-size="15.8" text-anchor="middle" fill="#2c2c2c" font-weight="normal" stroke="#2c2c2c" stroke-width="0.3">A</text>
<text x="175.7" y="820.0999999999999" font-size="15.8" text-anchor="middle" fill="#2c2c2c" font-weight="normal" stroke="#2c2c2c" stroke-width="0.3">B</text>
<text x="267" y="820.0999999999999" font-size="15.8" text-anchor="middle" fill="#2c2c2c" font-weight="normal" stroke="#2c2c2c" stroke-width="0.3">C</text>
<text x="352.7" y="820.0999999999999" font-size="15.8" text-anchor="middle" fill="#2c2c2c" font-weight="normal" stroke="#2c2c2c" stroke-width="0.3">D</text>
<rect x="11.3" y="823.70" width="399.5" height="1.2" fill="#b6b6b6"/>
<text x="62.6" y="839.2" font-size="15.1" text-anchor="middle" fill="#5e5e5e" font-weight="normal">400</text>
<text x="175.7" y="839.2" font-size="15.1" text-anchor="middle" fill="#5e5e5e" font-weight="normal">345</text>
<text x="267" y="839.2" font-size="15.1" text-anchor="middle" fill="#5e5e5e" font-weight="normal">70</text>
<text x="352.7" y="839.2" font-size="15.1" text-anchor="middle" fill="#5e5e5e" font-weight="normal" textLength="54.8" lengthAdjust="spacingAndGlyphs">65 or 80</text>
<rect x="11.3" y="841.90" width="399.5" height="1.2" fill="#b6b6b6"/>
<text x="62.6" y="856.8000000000001" font-size="15.1" text-anchor="middle" fill="#5e5e5e" font-weight="normal">500</text>
<text x="175.7" y="856.8000000000001" font-size="15.1" text-anchor="middle" fill="#5e5e5e" font-weight="normal">445</text>
<text x="267" y="856.8000000000001" font-size="15.1" text-anchor="middle" fill="#5e5e5e" font-weight="normal">70</text>
<text x="352.7" y="856.8000000000001" font-size="15.1" text-anchor="middle" fill="#5e5e5e" font-weight="normal" textLength="54.8" lengthAdjust="spacingAndGlyphs">65 or 80</text>
<rect x="11.3" y="859.50" width="399.5" height="1.2" fill="#b6b6b6"/>
<text x="62.6" y="874.7" font-size="15.1" text-anchor="middle" fill="#5e5e5e" font-weight="normal">600</text>
<text x="175.7" y="874.7" font-size="15.1" text-anchor="middle" fill="#5e5e5e" font-weight="normal">545</text>
<text x="267" y="874.7" font-size="15.1" text-anchor="middle" fill="#5e5e5e" font-weight="normal">70</text>
<text x="352.7" y="874.7" font-size="15.1" text-anchor="middle" fill="#5e5e5e" font-weight="normal" textLength="54.8" lengthAdjust="spacingAndGlyphs">65 or 80</text>
<rect x="11.3" y="877.40" width="399.5" height="1.2" fill="#b6b6b6"/>
<text x="62.6" y="891.9000000000001" font-size="15.1" text-anchor="middle" fill="#5e5e5e" font-weight="normal">750</text>
<text x="175.7" y="891.9000000000001" font-size="15.1" text-anchor="middle" fill="#5e5e5e" font-weight="normal">695</text>
<text x="267" y="891.9000000000001" font-size="15.1" text-anchor="middle" fill="#5e5e5e" font-weight="normal">70</text>
<text x="352.7" y="891.9000000000001" font-size="15.1" text-anchor="middle" fill="#5e5e5e" font-weight="normal" textLength="54.8" lengthAdjust="spacingAndGlyphs">65 or 80</text>
<rect x="11.3" y="894.60" width="399.5" height="1.2" fill="#b6b6b6"/>
<text x="62.6" y="910.3000000000001" font-size="15.1" text-anchor="middle" fill="#5e5e5e" font-weight="normal">900</text>
<text x="175.7" y="910.3000000000001" font-size="15.1" text-anchor="middle" fill="#5e5e5e" font-weight="normal">845</text>
<text x="267" y="910.3000000000001" font-size="15.1" text-anchor="middle" fill="#5e5e5e" font-weight="normal">70</text>
<text x="352.7" y="910.3000000000001" font-size="15.1" text-anchor="middle" fill="#5e5e5e" font-weight="normal" textLength="54.8" lengthAdjust="spacingAndGlyphs">65 or 80</text>
<rect x="11.3" y="913.00" width="399.5" height="1.2" fill="#b6b6b6"/>
<text x="501" y="755.8" font-size="20.4" text-anchor="start" fill="#1f1f1f" font-weight="bold" textLength="72.5" lengthAdjust="spacingAndGlyphs">Type 33</text>
<text x="542.6" y="783.5" font-size="14.6" text-anchor="middle" fill="#2c2c2c" font-weight="normal" textLength="85.5" lengthAdjust="spacingAndGlyphs" stroke="#2c2c2c" stroke-width="0.2">Nominal Size</text>
<text x="542.6" y="802.6" font-size="14.6" text-anchor="middle" fill="#2c2c2c" font-weight="normal" textLength="24.5" lengthAdjust="spacingAndGlyphs" stroke="#2c2c2c" stroke-width="0.2">mm</text>
<text x="655.7" y="783.5" font-size="14.6" text-anchor="middle" fill="#2c2c2c" font-weight="normal" textLength="108" lengthAdjust="spacingAndGlyphs" stroke="#2c2c2c" stroke-width="0.2">Centre Distance</text>
<text x="655.7" y="802.6" font-size="14.6" text-anchor="middle" fill="#2c2c2c" font-weight="normal" textLength="24.5" lengthAdjust="spacingAndGlyphs" stroke="#2c2c2c" stroke-width="0.2">mm</text>
<text x="747" y="783.5" font-size="14.6" text-anchor="middle" fill="#2c2c2c" font-weight="normal" textLength="42" lengthAdjust="spacingAndGlyphs" stroke="#2c2c2c" stroke-width="0.2">Width</text>
<text x="747" y="802.6" font-size="14.6" text-anchor="middle" fill="#2c2c2c" font-weight="normal" textLength="24.5" lengthAdjust="spacingAndGlyphs" stroke="#2c2c2c" stroke-width="0.2">mm</text>
<text x="832.7" y="783.5" font-size="14.6" text-anchor="middle" fill="#2c2c2c" font-weight="normal" textLength="100" lengthAdjust="spacingAndGlyphs" stroke="#2c2c2c" stroke-width="0.2">Wall to Centre</text>
<text x="832.7" y="802.6" font-size="14.6" text-anchor="middle" fill="#2c2c2c" font-weight="normal" textLength="24.5" lengthAdjust="spacingAndGlyphs" stroke="#2c2c2c" stroke-width="0.2">mm</text>
<text x="542.6" y="820.0999999999999" font-size="15.8" text-anchor="middle" fill="#2c2c2c" font-weight="normal" stroke="#2c2c2c" stroke-width="0.3">A</text>
<text x="655.7" y="820.0999999999999" font-size="15.8" text-anchor="middle" fill="#2c2c2c" font-weight="normal" stroke="#2c2c2c" stroke-width="0.3">B</text>
<text x="747" y="820.0999999999999" font-size="15.8" text-anchor="middle" fill="#2c2c2c" font-weight="normal" stroke="#2c2c2c" stroke-width="0.3">C</text>
<text x="832.7" y="820.0999999999999" font-size="15.8" text-anchor="middle" fill="#2c2c2c" font-weight="normal" stroke="#2c2c2c" stroke-width="0.3">D</text>
<rect x="491.3" y="823.70" width="399.5" height="1.2" fill="#b6b6b6"/>
<text x="542.6" y="839.2" font-size="15.1" text-anchor="middle" fill="#5e5e5e" font-weight="normal">400</text>
<text x="655.7" y="839.2" font-size="15.1" text-anchor="middle" fill="#5e5e5e" font-weight="normal">345</text>
<text x="747" y="839.2" font-size="15.1" text-anchor="middle" fill="#5e5e5e" font-weight="normal" textLength="22.5" lengthAdjust="spacingAndGlyphs">160</text>
<text x="832.7" y="839.2" font-size="15.1" text-anchor="middle" fill="#5e5e5e" font-weight="normal" textLength="76.8" lengthAdjust="spacingAndGlyphs">82.5 or 97.5</text>
<rect x="491.3" y="841.90" width="399.5" height="1.2" fill="#b6b6b6"/>
<text x="542.6" y="856.8000000000001" font-size="15.1" text-anchor="middle" fill="#5e5e5e" font-weight="normal">500</text>
<text x="655.7" y="856.8000000000001" font-size="15.1" text-anchor="middle" fill="#5e5e5e" font-weight="normal">445</text>
<text x="747" y="856.8000000000001" font-size="15.1" text-anchor="middle" fill="#5e5e5e" font-weight="normal" textLength="22.5" lengthAdjust="spacingAndGlyphs">160</text>
<text x="832.7" y="856.8000000000001" font-size="15.1" text-anchor="middle" fill="#5e5e5e" font-weight="normal" textLength="76.8" lengthAdjust="spacingAndGlyphs">82.5 or 97.5</text>
<rect x="491.3" y="859.50" width="399.5" height="1.2" fill="#b6b6b6"/>
<text x="542.6" y="874.7" font-size="15.1" text-anchor="middle" fill="#5e5e5e" font-weight="normal">600</text>
<text x="655.7" y="874.7" font-size="15.1" text-anchor="middle" fill="#5e5e5e" font-weight="normal">545</text>
<text x="747" y="874.7" font-size="15.1" text-anchor="middle" fill="#5e5e5e" font-weight="normal" textLength="22.5" lengthAdjust="spacingAndGlyphs">160</text>
<text x="832.7" y="874.7" font-size="15.1" text-anchor="middle" fill="#5e5e5e" font-weight="normal" textLength="76.8" lengthAdjust="spacingAndGlyphs">82.5 or 97.5</text>
<rect x="491.3" y="877.40" width="399.5" height="1.2" fill="#b6b6b6"/>
<text x="542.6" y="891.9000000000001" font-size="15.1" text-anchor="middle" fill="#5e5e5e" font-weight="normal">750</text>
<text x="655.7" y="891.9000000000001" font-size="15.1" text-anchor="middle" fill="#5e5e5e" font-weight="normal">695</text>
<text x="747" y="891.9000000000001" font-size="15.1" text-anchor="middle" fill="#5e5e5e" font-weight="normal" textLength="22.5" lengthAdjust="spacingAndGlyphs">160</text>
<text x="832.7" y="891.9000000000001" font-size="15.1" text-anchor="middle" fill="#5e5e5e" font-weight="normal" textLength="76.8" lengthAdjust="spacingAndGlyphs">82.5 or 97.5</text>
<rect x="491.3" y="894.60" width="399.5" height="1.2" fill="#b6b6b6"/>
</svg>
</body></html>
